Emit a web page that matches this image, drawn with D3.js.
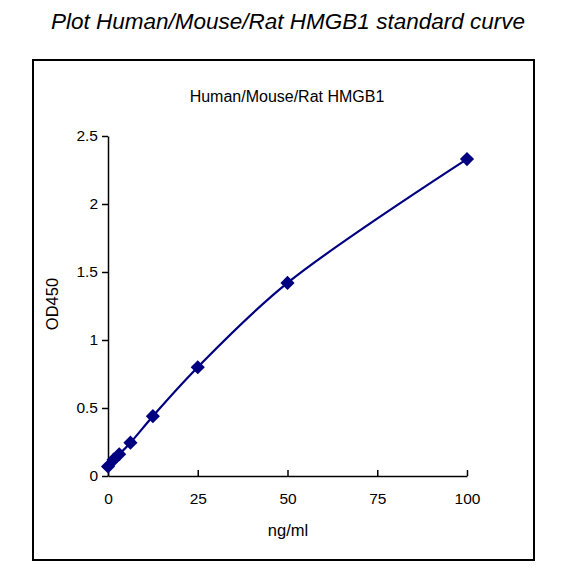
<!DOCTYPE html>
<html lang="en">
<head>
    <meta charset="UTF-8">
    <title>HMGB1 standard curve</title>
    <style>
        body {
            margin: 0;
            background: #fff;
            font-family: Arial, "Liberation Sans", sans-serif;
        }

        .axis path,
        .axis line {
            stroke: #000;
            stroke-width: 1.5px;
        }

        .axis text {
            font: 15.5px Arial, "Liberation Sans", sans-serif;
            fill: #000;
        }
    </style>
</head>
<body>
    <svg id="chart" width="572" height="577"></svg>
    <script src="https://cdn.jsdelivr.net/npm/d3@7/dist/d3.min.js"></script>
    <script>
        // standard concentrations (ng/ml) and measured OD450
        const conc = [0, 1.56, 3.125, 6.25, 12.5, 25, 50, 100];
        const od = [0.07, 0.12, 0.16, 0.245, 0.44, 0.80, 1.42, 2.33];
        const xTicks = [0, 25, 50, 75, 100];
        const yTicks = [0, 0.5, 1, 1.5, 2, 2.5];

        const svg = d3.select("#chart");

        // outer frame
        svg.append("rect")
            .attr("x", 33).attr("y", 60)
            .attr("width", 501).attr("height", 500)
            .attr("fill", "none")
            .attr("stroke", "#000")
            .attr("stroke-width", 2);

        svg.append("text")
            .attr("x", 288).attr("y", 29)
            .attr("text-anchor", "middle")
            .style("font", "italic 22.5px Arial, 'Liberation Sans', sans-serif")
            .text("Plot Human/Mouse/Rat HMGB1 standard curve");

        svg.append("text")
            .attr("x", 287).attr("y", 102)
            .attr("text-anchor", "middle")
            .style("font", "16px Arial, 'Liberation Sans', sans-serif")
            .text("Human/Mouse/Rat HMGB1");

        const x = d3.scaleLinear().domain([0, 100]).range([108, 467]);
        const y = d3.scaleLinear().domain([0, 2.5]).range([476, 136]);

        svg.append("g")
            .attr("class", "axis")
            .attr("transform", "translate(0,476)")
            .call(d3.axisBottom(x).tickValues(xTicks).tickSizeInner(-6).tickSizeOuter(0).tickPadding(17));

        svg.append("g")
            .attr("class", "axis")
            .attr("transform", "translate(108,0)")
            .call(d3.axisLeft(y).tickValues(yTicks).tickFormat(d3.format("")).tickSizeInner(6).tickSizeOuter(0).tickPadding(4));

        svg.append("text")
            .attr("x", 288).attr("y", 536)
            .attr("text-anchor", "middle")
            .style("font", "16.5px Arial, 'Liberation Sans', sans-serif")
            .text("ng/ml");

        svg.append("text")
            .attr("transform", "translate(58,304) rotate(-90)")
            .attr("text-anchor", "middle")
            .style("font", "16.5px Arial, 'Liberation Sans', sans-serif")
            .text("OD450");

        const pts = conc.map((c, i) => [c, od[i]]);

        const line = d3.line()
            .x(d => x(d[0]))
            .y(d => y(d[1]))
            .curve(d3.curveCatmullRom.alpha(0.5));

        svg.append("path")
            .datum(pts)
            .attr("d", line)
            .attr("fill", "none")
            .attr("stroke", "#000080")
            .attr("stroke-width", 2.2);

        svg.selectAll(".pt")
            .data(pts)
            .enter().append("path")
            .attr("class", "pt")
            .attr("d", d3.symbol().type(d3.symbolSquare).size(100))
            .attr("transform", d => `translate(${x(d[0])},${y(d[1])}) rotate(45)`)
            .attr("fill", "#000080");
    </script>
</body>
</html>
